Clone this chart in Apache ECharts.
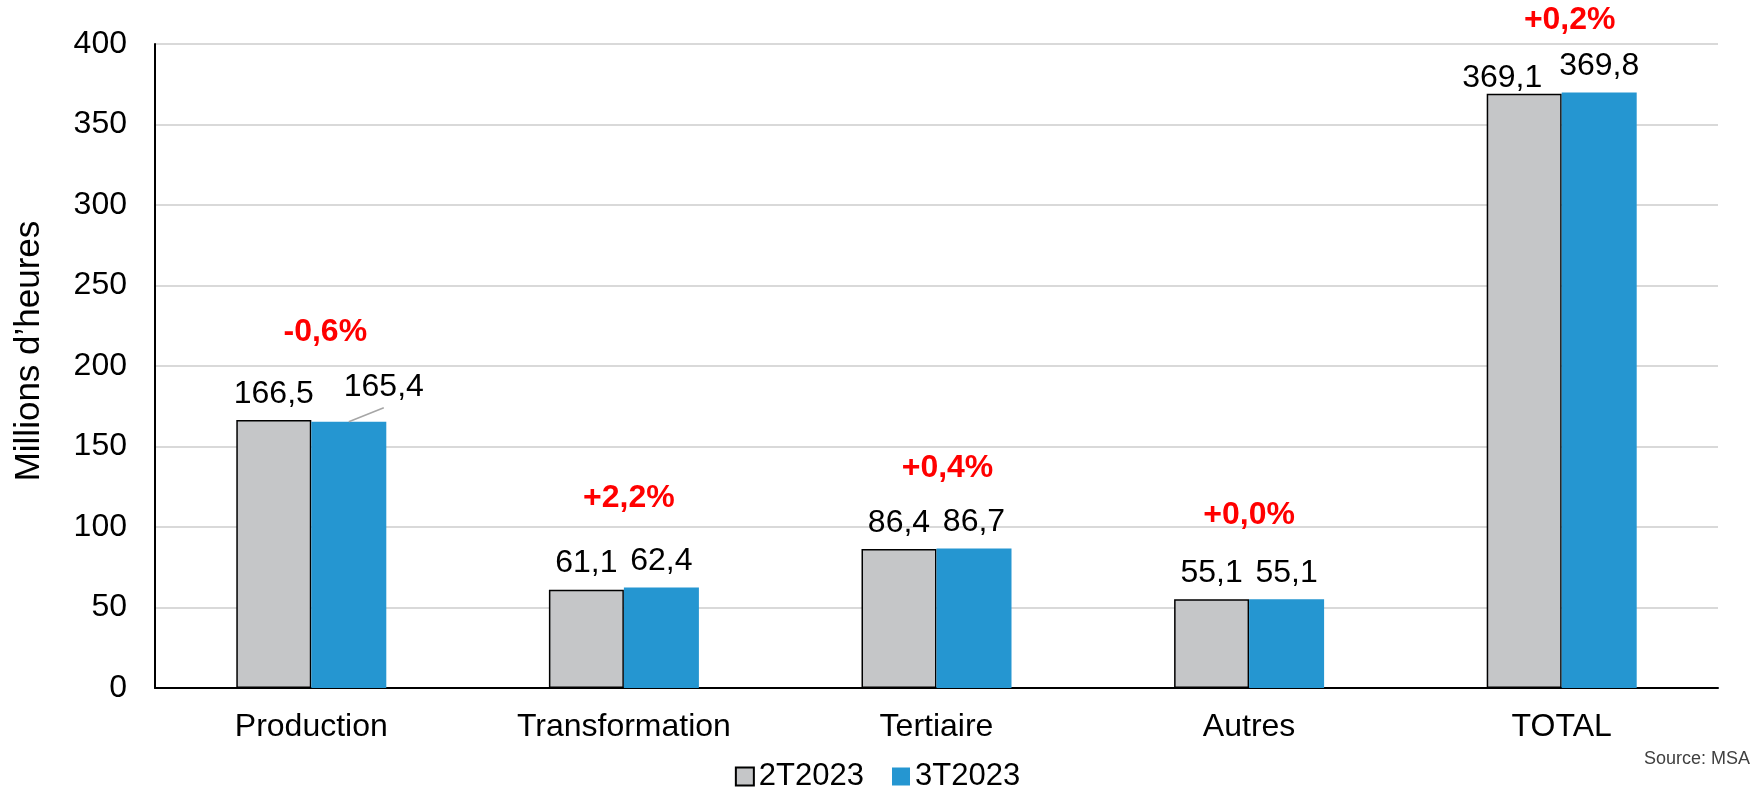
<!DOCTYPE html>
<html>
<head>
<meta charset="utf-8">
<script src="https://cdn.jsdelivr.net/npm/echarts@6/dist/echarts.min.js"></script>
<style>
  html, body { margin: 0; padding: 0; background: #ffffff; }
  #chart { width: 1755px; height: 787px; }
</style>
</head>
<body>
<div id="chart"></div>
<script>
// ---- Data ----
const categories = ['Production', 'Transformation', 'Tertiaire', 'Autres', 'TOTAL'];
const seriesNames = ['2T2023', '3T2023'];
const values2T = [166.5, 61.1, 86.4, 55.1, 369.1];
const values3T = [165.4, 62.4, 86.7, 55.1, 369.8];
const pctLabels = ['-0,6%', '+2,2%', '+0,4%', '+0,0%', '+0,2%'];
const yTicks = [0, 50, 100, 150, 200, 250, 300, 350, 400];

// ---- Style helpers ----
const FONT = '"Liberation Sans", Arial, sans-serif';
const fmt = v => v.toFixed(1).replace('.', ',');
const BAR_W = 75;
const pctLift = [88, 89, 80, 84, 72];   // px above the taller bar
const pctShift = [14, 5, 11, 0, 8];     // px horizontal nudge

const chart = echarts.init(document.getElementById('chart'), null, { renderer: 'canvas' });

const pctData = categories.map((c, i) => [i, Math.max(values2T[i], values3T[i])]);
const leaderData = [[0, values3T[0]]];

const option = {
  backgroundColor: '#ffffff',
  animation: false,
  textStyle: { fontFamily: FONT },
  grid: { left: 155, right: 37, top: 44, bottom: 99, containLabel: false, outerBoundsMode: 'none' },
  legend: {
    data: seriesNames,
    left: 'center',
    top: 756,
    icon: 'rect',
    itemWidth: 18,
    itemHeight: 18,
    itemGap: 28,
    textStyle: { fontSize: 31, color: '#000', fontFamily: FONT }
  },
  xAxis: {
    type: 'category',
    data: categories,
    axisLine: { show: true, lineStyle: { color: '#000', width: 2 } },
    axisTick: { show: false },
    axisLabel: { fontSize: 32, color: '#000', margin: 23, fontFamily: FONT },
    splitLine: { show: false }
  },
  yAxis: {
    type: 'value',
    min: yTicks[0],
    max: yTicks[yTicks.length - 1],
    interval: yTicks[1] - yTicks[0],
    name: "Millions d’heures",
    nameLocation: 'middle',
    nameGap: 108,
    nameTextStyle: { fontSize: 35, color: '#000', fontFamily: FONT, padding: [0, 0, 0, 30] },
    axisLine: { show: true, lineStyle: { color: '#000', width: 2 } },
    axisTick: { show: false },
    axisLabel: { fontSize: 32, color: '#000', margin: 28, fontFamily: FONT },
    splitLine: { show: true, lineStyle: { color: '#d9d9d9', width: 2 } }
  },
  series: [
    {
      name: seriesNames[0],
      type: 'bar',
      barWidth: BAR_W,
      barGap: '0%',
      data: values2T,
      itemStyle: { color: '#c5c6c8', borderColor: '#000', borderWidth: 1.5 },
      label: {
        show: true, position: 'top', distance: 10,
        fontSize: 32, color: '#000', fontFamily: FONT,
        formatter: p => fmt(p.value)
      },
      labelLayout: p => (p.dataIndex === 4 ? { dx: -22, dy: 10 } : {})
    },
    {
      name: seriesNames[1],
      type: 'bar',
      barWidth: BAR_W,
      barGap: '0%',
      data: values3T,
      itemStyle: { color: '#2596d1' },
      label: {
        show: true, position: 'top', distance: 10,
        fontSize: 32, color: '#000', fontFamily: FONT,
        formatter: p => fmt(p.value)
      },
      labelLayout: p => (p.dataIndex === 0 ? { dx: 35, dy: -9 } : {})
    },
    {
      name: 'leader',
      type: 'custom',
      data: leaderData,
      z: 5,
      silent: true,
      renderItem: (params, api) => {
        const pt = api.coord([api.value(0), api.value(1)]);
        const sx = pt[0] + BAR_W / 2;
        return {
          type: 'line',
          shape: { x1: sx, y1: pt[1], x2: sx + 35, y2: pt[1] - 14 },
          style: { stroke: '#a6a6a6', lineWidth: 1.5 }
        };
      }
    },
    {
      name: 'pct',
      type: 'custom',
      data: pctData,
      z: 10,
      silent: true,
      renderItem: (params, api) => {
        const i = api.value(0);
        const pt = api.coord([i, api.value(1)]);
        const y = Math.max(pt[1] - pctLift[i], 20);
        return {
          type: 'text',
          style: {
            text: pctLabels[i],
            x: pt[0] + pctShift[i],
            y: y,
            align: 'center',
            verticalAlign: 'middle',
            fill: '#ff0000',
            font: 'bold 32px ' + FONT
          }
        };
      }
    }
  ],
  graphic: [
    {
      type: 'text',
      right: 5,
      top: 750,
      style: { text: 'Source: MSA', fill: '#404040', font: '18px ' + FONT }
    }
  ]
};

chart.setOption(option);
</script>
</body>
</html>
